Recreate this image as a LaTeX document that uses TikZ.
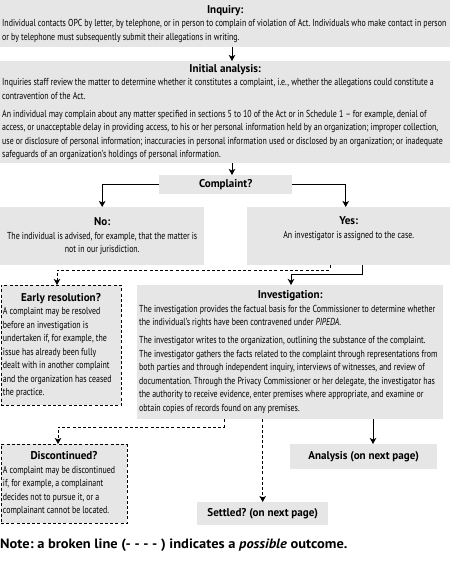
\documentclass[tikz,border=0pt]{standalone}
\usepackage{fontspec}
\setmainfont{PT Sans}
\newfontfamily\bodyfont{PT Sans}[FakeStretch=0.78]
\newfontfamily\titlefont{PT Sans}[FakeStretch=0.98]
\newfontfamily\notefont{PT Sans}[FakeStretch=1.07]
\usetikzlibrary{arrows.meta}
\definecolor{boxgray}{RGB}{230,230,230}
\setlength{\parindent}{0pt}
\hyphenpenalty=10000
\frenchspacing
\newlength\reflen
\newcommand{\rs}{\spaceskip=0pt\xspaceskip=0pt\relax}
\newcommand{\ttl}[1]{{\titlefont\bfseries\fontsize{11.3}{13.5}\selectfont #1}}
\newcommand{\ctitle}[1]{{\centering\ttl{#1}\par}}
\newcommand{\bodysize}{10}
\tikzset{
  box/.style={fill=boxgray, anchor=north west, inner xsep=2pt, inner ysep=0pt,
    align=left, font=\bodyfont\fontsize{\bodysize}{13.5}\selectfont},
  dbox/.style={box, draw, line width=0.9pt, dash pattern=on 3pt off 2.2pt},
  tbox/.style={fill=boxgray, anchor=north west, inner sep=0pt, align=center,
    font=\titlefont\bfseries\fontsize{11.3}{13.5}\selectfont},
  arr/.style={line width=0.9pt, -{Stealth[length=6pt,width=6.5pt,inset=1.5pt]}},
  darr/.style={arr, dash pattern=on 3pt off 2.2pt},
}
\begin{document}
\settowidth\reflen{\bodyfont\fontsize{10}{12}\selectfont Individual contacts OPC by letter, by telephone, or in person to complain of violation of Act. Individuals who make contact in person}%
\edef\bodysize{\fpeval{round(4440/\reflen,2)}}%
\begin{tikzpicture}[x=1pt,y=-1pt]
\useasboundingbox (0,0) rectangle (450,561);
% boxes
\node[box, text width=446pt, minimum height=47pt] (inq) at (0,0) {\rs
\ctitle{Inquiry:}
Individual contacts OPC by letter, by telephone, or in person to complain of violation of Act. Individuals who make contact in person\\
or by telephone must subsequently submit their allegations in writing.};
\node[box, text width=446pt, minimum height=102pt] (ia) at (0,61) {\rs
\ctitle{Initial analysis:}
Inquiries staff review the matter to determine whether it constitutes a complaint, i.e., whether the allegations could constitute a\\
contravention of the Act.\\[4.5pt]
An individual may complain about any matter specified in sections 5 to 10 of the Act or in Schedule 1 – for example, denial of\\
access, or unacceptable delay in providing access, to his or her personal information held by an organization; improper collection,\\
use or disclosure of personal information; inaccuracies in personal information used or disclosed by an organization; or inadequate\\
safeguards of an organization’s holdings of personal information.};
\node[tbox, minimum width=133pt, minimum height=19pt] (cmp) at (159,175) {Complaint?};
\node[box, text width=200pt, minimum height=58pt] (no) at (0,207) {\rs
{\centering\ttl{No:}\par
The individual is advised, for example, that the matter is\\
not in our jurisdiction.\par}};
\node[box, text width=199pt, minimum height=58pt] (yes) at (247,207) {\rs
{\centering\ttl{Yes:}\par
An investigator is assigned to the case.\\
\strut\par}};
\node[dbox, text width=116pt, minimum height=120pt] (er) at (0.5,285) {\rs
\ctitle{Early resolution?}
A complaint may be resolved\\
before an investigation is\\
undertaken if, for example, the\\
issue has already been fully\\
dealt with in another complaint\\
and the organization has ceased\\
the practice.};
\node[box, text width=302pt, minimum height=134pt] (inv) at (137,285) {\rs
\ctitle{Investigation:}
The investigation provides the factual basis for the Commissioner to determine whether\\
the individual’s rights have been contravened under \textit{PIPEDA}.\\[4.5pt]
The investigator writes to the organization, outlining the substance of the complaint.\\
The investigator gathers the facts related to the complaint through representations from\\
both parties and through independent inquiry, interviews of witnesses, and review of\\
documentation. Through the Privacy Commissioner or her delegate, the investigator has\\
the authority to receive evidence, enter premises where appropriate, and examine or\\
obtain copies of records found on any premises.};
\node[dbox, text width=122pt, minimum height=79pt] (disc) at (0.5,444) {\rs
\ctitle{Discontinued?}
A complaint may be discontinued\\
if, for example, a complainant\\
decides not to pursue it, or a\\
complainant cannot be located.};
\node[tbox, minimum width=147pt, minimum height=25pt] (an) at (290,444) {Analysis (on next page)};
\node[tbox, minimum width=131pt, minimum height=23pt] (st) at (197,502) {Settled? (on next page)};
\node[anchor=base west, inner sep=0pt, font=\notefont\bfseries\fontsize{13.5}{16}\selectfont] (note) at (0,548)
  {Note: a broken line (- - - - ) indicates a \textit{possible} outcome.};
% coordinates
\coordinate (c1) at (232,0);
\coordinate (ys) at (362,274);
\coordinate (yt) at (291,274);
\coordinate (ds) at (330,270);
\coordinate (dt) at (57,270);
\coordinate (is) at (224,427);
\coordinate (it) at (58,427);
\coordinate (ia2) at (373,0);
% connectors
\draw[arr] (inq.south -| c1) -- (ia.north -| c1);
\draw[arr] (ia.south -| c1) -- (cmp.north -| c1);
\draw[arr] (cmp.west) -| (no.north);
\draw[arr] (cmp.east) -| ([xshift=-3pt]yes.north);
\draw[arr] (yes.south -| ys) -- (ys) -- (yt) -- (inv.north -| yt);
\draw[darr] (yes.south -| ds) -- (ds) -- (dt) -- (er.north -| dt);
\draw[darr] (inv.south -| is) -- (is) -- (it) -- (disc.north -| it);
\draw[darr] (inv.south -| st.north) -- (st.north);
\draw[arr] (inv.south -| ia2) -- (an.north -| ia2);
\end{tikzpicture}
\end{document}
